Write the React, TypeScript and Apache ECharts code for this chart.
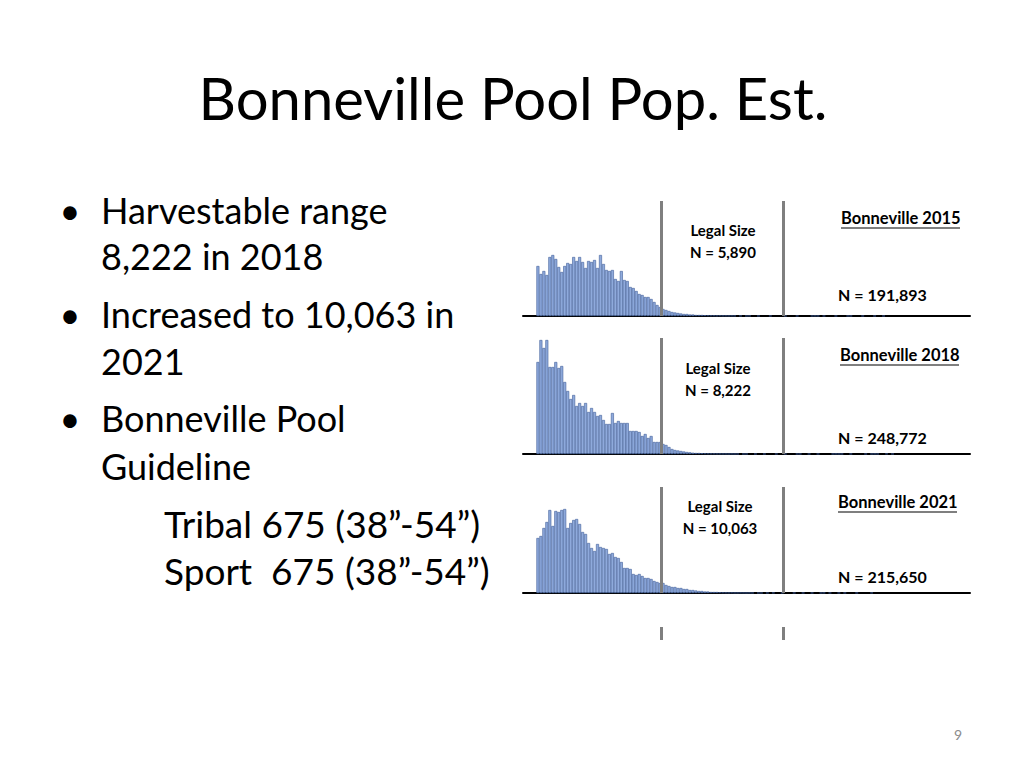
import React, { useEffect, useRef } from "react";
import * as echarts from "echarts";

// length bins (cm), first bin centre and axis range
const binStart = 55;
const axisRange = [50, 200];
// harvest slot 38"-54" in cm
const slotLimits = [96.5, 137.2];

const years = ["2015", "2018", "2021"];
const legalCounts = ["5,890", "8,222", "10,063"];
const totalCounts = ["191,893", "248,772", "215,650"];

const counts2015 = [
  5000, 4200, 4500, 4100, 5900, 6100, 5700, 4900, 4400, 5000, 5300, 5200, 5900, 5500, 5900, 5400,
  4800, 5500, 5400, 5600, 4800, 6100, 5200, 4600, 4500, 4600, 3700, 3500, 4500, 3600, 3500, 2900,
  2800, 2500, 2200, 2100, 1900, 1900, 1700, 1400, 1100, 900, 700, 600, 500, 400, 350, 300, 250,
  200, 200, 150, 150, 100, 100, 100, 80, 60, 50, 50, 30, 50, 30, 30, 20, 30, 20, 0, 20, 0, 10, 20,
  0, 0, 10, 0, 0, 0, 10, 0, 0, 0, 0, 10, 0, 0, 0, 10, 0, 0, 0, 0, 10, 20, 10, 0, 10, 0, 0, 0, 10,
  0, 0, 0, 10, 10, 0, 0, 0, 10, 0, 0, 0, 10, 0, 0, 10,
];

const counts2018 = [
  9200, 11400, 10600, 11400, 8700, 8700, 9200, 8600, 8800, 7200, 6300, 5500, 5900, 4800, 5100, 4800,
  5100, 4200, 4600, 4200, 3800, 3900, 3400, 3000, 3000, 4100, 3100, 3300, 3100, 3100, 3100, 2300,
  2300, 2300, 2200, 1800, 2000, 1600, 1800, 1200, 1200, 1200, 1000, 900, 700, 500, 400, 350, 300,
  250, 200, 170, 130, 100, 100, 80, 60, 50, 40, 40, 30, 30, 20, 20, 10, 20, 10, 10, 0, 10, 10, 0,
  0, 10, 0, 0, 10, 0, 0, 0, 10, 0, 0, 10, 0, 0, 0, 10, 10, 0, 0, 10, 0, 0, 10, 0, 0, 0, 0, 10, 20,
  10, 10, 0, 0, 10, 0, 0, 0, 0, 10, 0, 10, 20, 10, 0, 0, 30, 0, 10,
];

const counts2021 = [
  5500, 5700, 6500, 7100, 8300, 6700, 8200, 8100, 8300, 8400, 6500, 7000, 7300, 7400, 6900, 6100,
  5900, 5000, 4500, 4200, 4900, 4600, 4500, 4400, 3900, 4000, 3600, 3500, 3100, 2500, 2500, 2400,
  1900, 1800, 1900, 1700, 1500, 1500, 1400, 1200, 1100, 1000, 1000, 800, 700, 600, 600, 500, 500,
  400, 400, 300, 300, 250, 200, 200, 150, 150, 100, 100, 100, 70, 50, 40, 30, 40, 20, 20, 30, 20,
  10, 20, 10, 0, 10, 10, 0, 10, 0, 20, 0, 0, 10, 0, 0, 0, 10, 0, 0, 10, 0, 0, 10, 0, 0, 10, 20, 0,
  10, 0, 0, 10, 0, 10, 0, 0, 0, 10, 0, 0, 0, 0, 20, 0,
];

const seriesCounts = [counts2015, counts2018, counts2021];
const yMaxes = [11500, 11600, 10600];

// panel placement (px)
const panelTops = [201, 338, 487];
const panelHeights = [115, 116, 106];
const plotLeft = 523;
const plotWidth = 447;

const bullets = [
  { text: "Harvestable range", y: 222, bullet: true },
  { text: "8,222 in 2018", y: 268 },
  { text: "Increased to 10,063 in", y: 326, bullet: true },
  { text: "2021", y: 373 },
  { text: "Bonneville Pool", y: 430, bullet: true },
  { text: "Guideline", y: 478 },
];
const subLines = [
  { text: "Tribal 675 (38\u201d-54\u201d)", y: 535 },
  { text: "Sport  675 (38\u201d-54\u201d)", y: 582 },
];

const FONT = "Lato, 'Open Sans', sans-serif";

const App: React.FC = () => {
  const chartRef = useRef<HTMLDivElement>(null);

  useEffect(() => {
    if (!chartRef.current) return;
    const chart = echarts.init(chartRef.current, undefined, { renderer: "svg" });

    const toPairs = (counts: number[]) =>
      counts.map((c, i) => [binStart + i, c]).filter((p) => p[1] > 0);

    const grids: any[] = panelTops.map((top, i) => ({
      left: plotLeft,
      width: plotWidth,
      top,
      height: panelHeights[i],
    }));
    // small stubs of the slot lines under the last panel
    grids.push({ left: plotLeft, width: plotWidth, top: 627, height: 13 });

    const xAxes = grids.map((_, i) => ({
      type: "value",
      gridIndex: i,
      min: axisRange[0],
      max: axisRange[1],
      axisLine: {
        show: i < 3,
        onZero: false,
        lineStyle: { color: "#000", width: 2 },
      },
      axisTick: { show: false },
      axisLabel: { show: false },
      splitLine: { show: false },
    }));

    const yAxes = grids.map((_, i) => ({
      type: "value",
      gridIndex: i,
      min: 0,
      max: i < 3 ? yMaxes[i] : 1,
      show: false,
    }));

    const slotLine = {
      silent: true,
      symbol: ["none", "none"],
      label: { show: false },
      lineStyle: { color: "#7f7f7f", width: 3, type: "solid" },
      data: slotLimits.map((v) => ({ xAxis: v })),
    };

    const series: any[] = seriesCounts.map((counts, i) => ({
      type: "bar",
      name: years[i],
      xAxisIndex: i,
      yAxisIndex: i,
      data: toPairs(counts),
      barWidth: "100%",
      itemStyle: { color: "#8FAADC", borderColor: "#3F5E98", borderWidth: 0.6 },
      markLine: slotLine,
    }));
    series.push({
      type: "line",
      xAxisIndex: 3,
      yAxisIndex: 3,
      data: [],
      markLine: slotLine,
    });

    const labelFont = (size: number, weight = "bold") => `${weight} ${size}px ${FONT}`;
    const legalX = [723, 718, 720];
    const legalY = [230, 368, 506];
    const yearY = [218, 355, 502];
    const yearX = [841, 840, 838];
    const totalY = [294, 437, 576];

    const graphics: any[] = [
      {
        type: "text",
        x: 513,
        y: 97,
        style: {
          text: "Bonneville Pool Pop. Est.",
          font: `58px ${FONT}`,
          fill: "#000",
          align: "center",
          verticalAlign: "middle",
        },
      },
      {
        type: "text",
        x: 958,
        y: 734,
        style: { text: "9", font: `14px ${FONT}`, fill: "#8c8c8c", align: "center", verticalAlign: "middle" },
      },
    ];

    bullets.forEach((b) => {
      if (b.bullet) {
        graphics.push({
          type: "text",
          x: 70,
          y: b.y - 12,
          style: { text: "\u2022", font: `36px ${FONT}`, fill: "#000", align: "center", verticalAlign: "middle" },
        });
      }
      graphics.push({
        type: "text",
        x: 101,
        y: b.y - 12,
        style: { text: b.text, font: `36px ${FONT}`, fill: "#000", align: "left", verticalAlign: "middle" },
      });
    });
    subLines.forEach((s) => {
      graphics.push({
        type: "text",
        x: 164,
        y: s.y - 12,
        style: { text: s.text, font: `37px ${FONT}`, fill: "#000", align: "left", verticalAlign: "middle" },
      });
    });

    years.forEach((yr, i) => {
      graphics.push(
        {
          type: "text",
          x: legalX[i],
          y: legalY[i],
          style: { text: "Legal Size", font: labelFont(15), fill: "#000", align: "center", verticalAlign: "middle" },
        },
        {
          type: "text",
          x: legalX[i],
          y: legalY[i] + 22,
          style: { text: `N = ${legalCounts[i]}`, font: labelFont(15), fill: "#000", align: "center", verticalAlign: "middle" },
        },
        {
          type: "text",
          x: yearX[i],
          y: yearY[i],
          style: { text: `Bonneville ${yr}`, font: labelFont(16.5), fill: "#000", align: "left", verticalAlign: "middle" },
        },
        {
          type: "line",
          shape: { x1: yearX[i], y1: yearY[i] + 10, x2: yearX[i] + 119, y2: yearY[i] + 10 },
          style: { stroke: "#000", lineWidth: 1.2 },
        },
        {
          type: "text",
          x: 838,
          y: totalY[i],
          style: { text: `N = ${totalCounts[i]}`, font: labelFont(16), fill: "#000", align: "left", verticalAlign: "middle" },
        }
      );
    });

    chart.setOption({
      animation: false,
      grid: grids,
      xAxis: xAxes,
      yAxis: yAxes,
      series,
      graphic: graphics,
    });

    return () => {
      chart.dispose();
    };
  }, []);

  return (
    <div
      ref={chartRef}
      style={{ position: "fixed", left: 0, top: 0, width: 1024, height: 768, background: "#fff" }}
    />
  );
};

export default App;
